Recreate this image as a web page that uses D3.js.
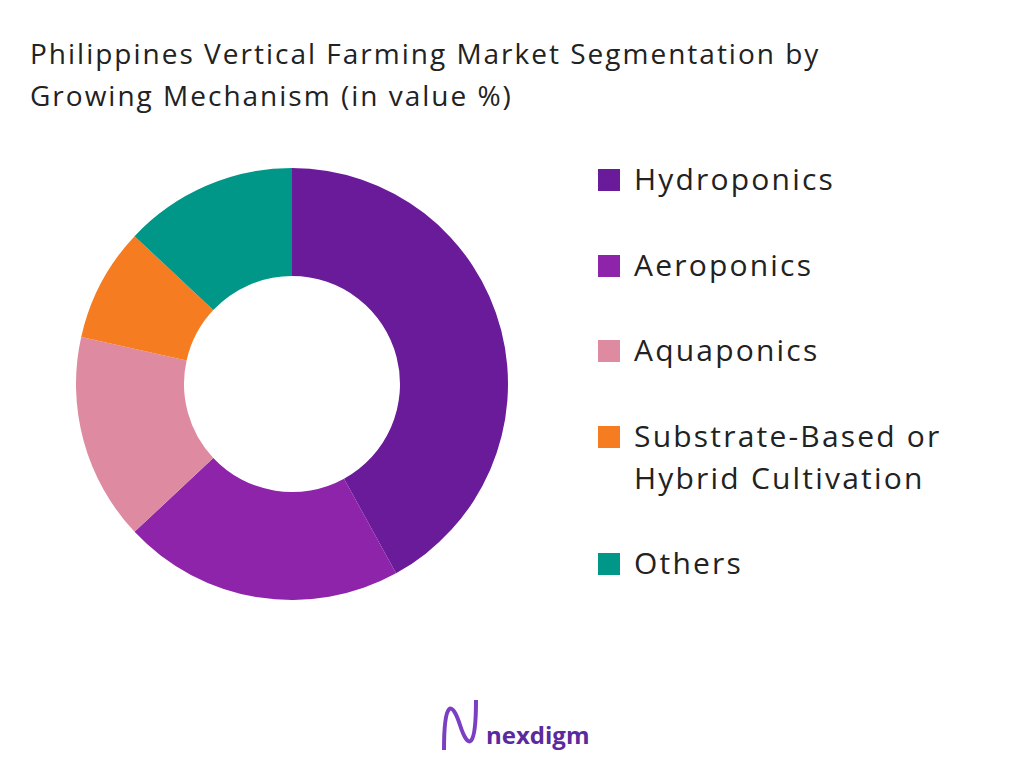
<!DOCTYPE html>
<html><head><meta charset="utf-8">
<script src="https://cdn.jsdelivr.net/npm/d3@7"></script>
<style>body{margin:0;background:#fff}svg{font-family:"Open Sans",sans-serif}</style>
</head><body><svg id="c" width="1024" height="768"></svg>
<script>
const categories = ['Hydroponics', 'Aeroponics', 'Aquaponics', 'Substrate-Based or Hybrid Cultivation', 'Others']
const values = [42, 21, 15.5, 8.5, 13]
const colors = ['#6a1b9a', '#8e24aa', '#de8aa0', '#f57c20', '#009688']
const legendLines = [['Hydroponics'], ['Aeroponics'], ['Aquaponics'], ['Substrate-Based or', 'Hybrid Cultivation'], ['Others']]

const svg = d3.select('#c')
svg.append('text').attr('x', 30).attr('y', 64).attr('font-size', 28).attr('letter-spacing', 2).attr('fill', '#222')
  .text('Philippines Vertical Farming Market Segmentation by')
svg.append('text').attr('x', 30).attr('y', 106).attr('font-size', 28).attr('letter-spacing', 2).attr('fill', '#222')
  .text('Growing Mechanism (in value %)')

const pie = d3.pie().sort(null).value(d => d)
const arc = d3.arc().innerRadius(108).outerRadius(216)
const g = svg.append('g').attr('transform', 'translate(292,384)')
g.selectAll('path').data(pie(values)).join('path')
  .attr('d', arc).attr('fill', (d, i) => colors[i])

const legendY = [180, 266, 351, 437, 564]
const lg = svg.append('g')
legendLines.forEach((lines, i) => {
  lg.append('rect').attr('x', 598).attr('y', legendY[i] - 11).attr('width', 22).attr('height', 22).attr('fill', colors[i])
  lines.forEach((t, j) => {
    lg.append('text').attr('x', 634).attr('y', legendY[i] + 10 + j * 42).attr('font-size', 30)
      .attr('letter-spacing', 2.2).attr('fill', '#222').text(t)
  })
})

// logo
const logo = svg.append('g')
logo.append('path').attr('d', 'M444,750 C444,700 452,700 460,725 C468,750 476,750 476,700')
  .attr('fill', 'none').attr('stroke', '#7b3fc4').attr('stroke-width', 4)
logo.append('text').attr('x', 486).attr('y', 744).attr('font-size', 24).attr('font-weight', 'bold')
  .attr('fill', '#5b2a9d').text('nexdigm')
</script></body></html>
